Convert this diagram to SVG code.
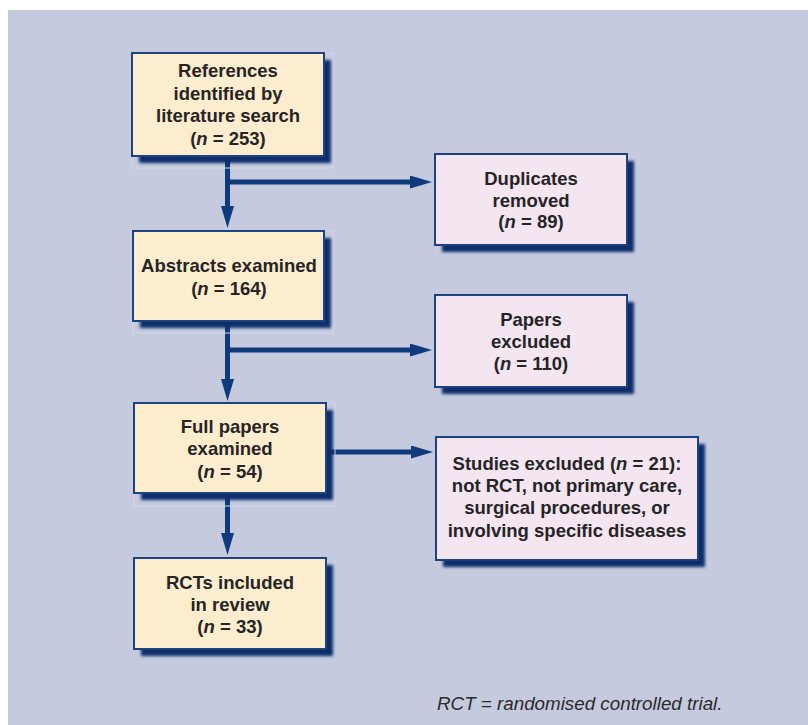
<svg xmlns="http://www.w3.org/2000/svg" width="808" height="725" viewBox="0 0 808 725">
<style>
.bg{fill:#c5cadf}
.halo{fill:none;stroke:#d2d6e7;stroke-width:1}
.sh{fill:#0e2f6b;filter:url(#blur)}
.y{fill:#fdedcf;stroke:#1d437f;stroke-width:2}
.p{fill:#f3e6f1;stroke:#1d437f;stroke-width:2}
.t{font-family:"Liberation Sans",Arial,Helvetica,sans-serif;font-weight:bold;font-size:18.5px;fill:#262425;text-anchor:middle}
.i{font-style:italic}
.c{stroke:#0f3a7c;stroke-width:5;fill:none;marker-end:url(#ah)}
.cn{stroke:#0f3a7c;stroke-width:5;fill:none}
.foot{font-family:"Liberation Sans",Arial,Helvetica,sans-serif;font-style:italic;font-size:18.8px;fill:#2b2a2c}
</style>
<defs>
<filter id="blur" x="-10%" y="-10%" width="120%" height="120%"><feGaussianBlur stdDeviation="1.6"/></filter>
<marker id="ah" markerUnits="userSpaceOnUse" markerWidth="24" markerHeight="14" refX="10" refY="6.5" orient="auto" viewBox="0 0 24 14">
<path d="M0,0 L22,6.5 L0,13 z" fill="#0f3a7c"/>
</marker>
</defs>
<rect class="bg" x="8" y="10" width="800" height="715"/>

<g id="connectors">
<line class="cn" x1="227.5" y1="157" x2="227.5" y2="182"/>
<line class="c" x1="227.5" y1="182" x2="227.5" y2="216"/>
<line class="c" x1="227.5" y1="182" x2="420" y2="182"/>
<line class="cn" x1="227.5" y1="321" x2="227.5" y2="350"/>
<line class="c" x1="227.5" y1="350" x2="227.5" y2="389"/>
<line class="c" x1="227.5" y1="350" x2="420" y2="350"/>
<line class="c" x1="326" y1="452" x2="421" y2="452"/>
<line class="c" x1="227.5" y1="493" x2="227.5" y2="543"/>
</g>

<g id="n1">
<rect class="halo" x="132" y="53" width="201" height="115"/>
<rect class="sh" x="139" y="60" width="192" height="103"/>
<rect class="y" x="132" y="53" width="192" height="103"/>
<text class="t" x="228" y="77">References</text>
<text class="t" x="228" y="100">identified by</text>
<text class="t" x="228" y="122">literature search</text>
<text class="t" x="228" y="145">(<tspan class="i">n</tspan> = 253)</text>
</g>

<g id="n2">
<rect class="sh" x="442" y="161" width="192" height="91"/>
<rect class="p" x="435" y="154" width="192" height="91"/>
<text class="t" x="531" y="185">Duplicates</text>
<text class="t" x="531" y="207">removed</text>
<text class="t" x="531" y="228">(<tspan class="i">n</tspan> = 89)</text>
</g>

<g id="n3">
<rect class="halo" x="133" y="231" width="200" height="102"/>
<rect class="sh" x="140" y="238" width="191" height="90"/>
<rect class="y" x="133" y="231" width="191" height="90"/>
<text class="t" x="229" y="272">Abstracts examined</text>
<text class="t" x="229" y="295">(<tspan class="i">n</tspan> = 164)</text>
</g>

<g id="n4">
<rect class="sh" x="442" y="302" width="192" height="92"/>
<rect class="p" x="435" y="295" width="192" height="92"/>
<text class="t" x="531" y="326">Papers</text>
<text class="t" x="531" y="348">excluded</text>
<text class="t" x="531" y="370">(<tspan class="i">n</tspan> = 110)</text>
</g>

<g id="n5">
<rect class="halo" x="134" y="403" width="201" height="103"/>
<rect class="sh" x="141" y="410" width="192" height="90"/>
<rect class="y" x="134" y="403" width="192" height="90"/>
<text class="t" x="230" y="433">Full papers</text>
<text class="t" x="230" y="455">examined</text>
<text class="t" x="230" y="478">(<tspan class="i">n</tspan> = 54)</text>
</g>

<g id="n6">
<rect class="sh" x="443" y="444" width="262" height="123"/>
<rect class="p" x="436" y="437" width="262" height="123"/>
<text class="t" x="567" y="470">Studies excluded (<tspan class="i">n</tspan> = 21):</text>
<text class="t" x="567" y="492">not RCT, not primary care,</text>
<text class="t" x="567" y="514">surgical procedures, or</text>
<text class="t" x="567" y="537">involving specific diseases</text>
</g>

<g id="n7">
<rect class="sh" x="141" y="565" width="192" height="91"/>
<rect class="y" x="134" y="558" width="192" height="91"/>
<text class="t" x="230" y="589">RCTs included</text>
<text class="t" x="230" y="611">in review</text>
<text class="t" x="230" y="633">(<tspan class="i">n</tspan> = 33)</text>
</g>

<text class="foot" x="437" y="710">RCT = randomised controlled trial.</text>
</svg>
